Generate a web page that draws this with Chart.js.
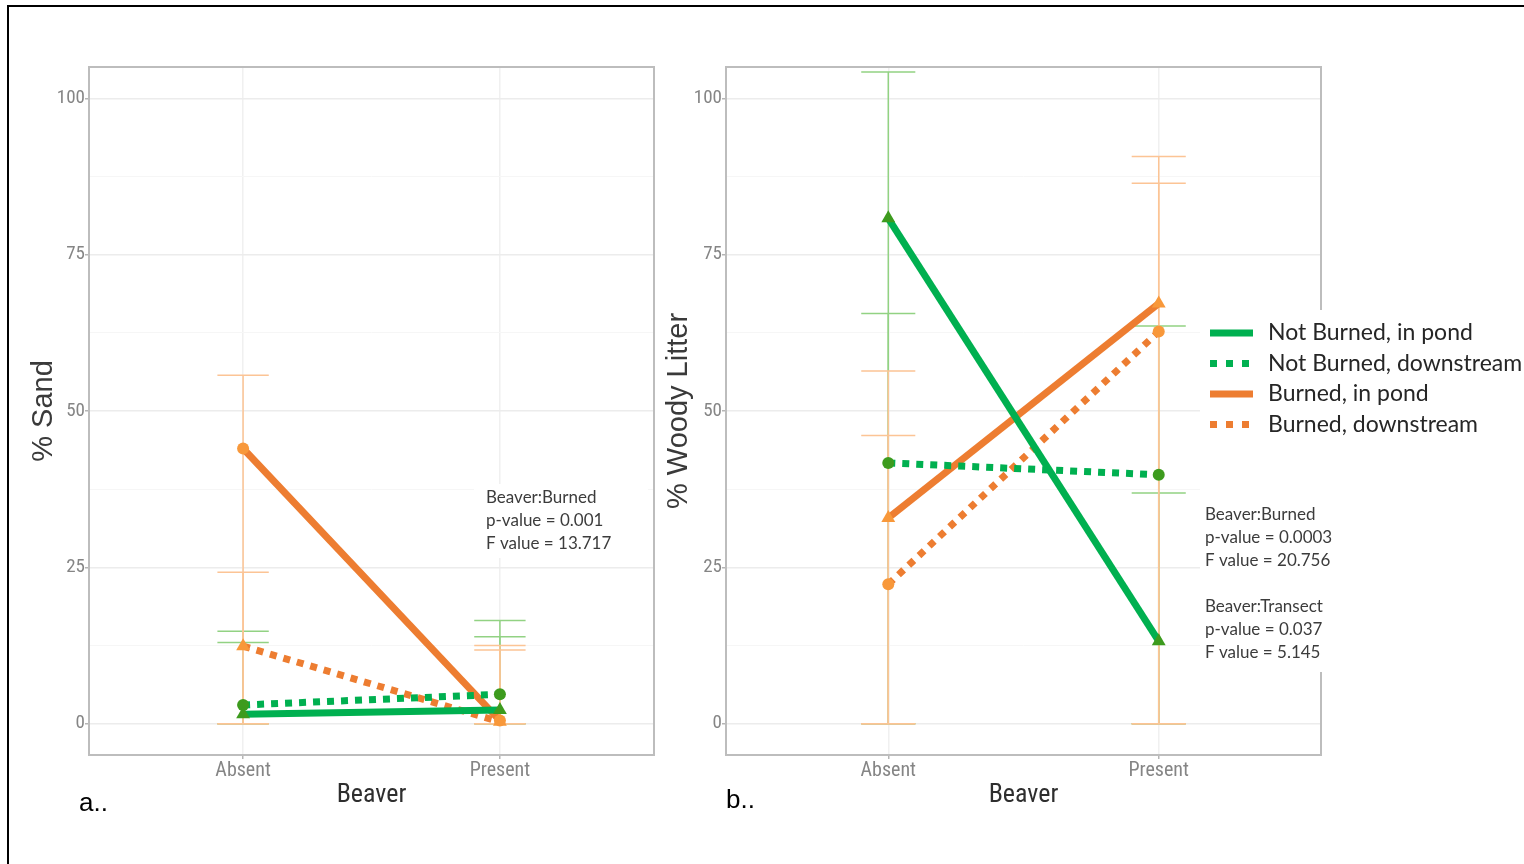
<!DOCTYPE html>
<html>
<head>
<meta charset="utf-8">
<title>Sand and woody litter by beaver presence</title>
<script src="https://cdn.jsdelivr.net/npm/chart.js@4.4.1/dist/chart.umd.min.js"></script>
<style>
  html, body { margin: 0; padding: 0; background: #fff; }
  body { width: 1524px; height: 864px; position: relative; overflow: hidden; }
  .frame { position: absolute; left: 7px; top: 5px; right: -4px; bottom: -4px; border-left: 2px solid #000; border-top: 2px solid #000; }
  #sandWrap { position: absolute; left: 0; top: 0; width: 680px; height: 864px; }
  #woodyWrap { position: absolute; left: 640px; top: 0; width: 884px; height: 864px; }
  .tag { position: absolute; font: 26px "Liberation Sans", Arial, sans-serif; color: #000; line-height: 30px; }
</style>
</head>
<body>
<div class="frame"></div>
<div id="sandWrap"><canvas id="sandChart" width="680" height="864"></canvas></div>
<div id="woodyWrap"><canvas id="woodyChart" width="884" height="864"></canvas></div>
<div class="tag" style="left:79px; top:787px;">a..</div>
<div class="tag" style="left:726px; top:784px;">b..</div>
<script>
// ---- data ----
const categories = ['Absent', 'Present'];
const seriesNames = ['Not Burned, in pond', 'Not Burned, downstream', 'Burned, in pond', 'Burned, downstream'];
const yMajorTicks = [0, 25, 50, 75, 100];
const yMinorTicks = [12.5, 37.5, 62.5, 87.5];

// % sand (means, upper error limits)
const sandNotBurnedPond = [1.5, 2.2];
const sandNotBurnedDown = [3.0, 4.7];
const sandBurnedPond = [44.0, 0.5];
const sandBurnedDown = [12.4, 0.3];
const sandUpperNotBurnedPond = [13.0, 13.9];
const sandUpperNotBurnedDown = [14.8, 16.5];
const sandUpperBurnedPond = [55.7, 12.5];
const sandUpperBurnedDown = [24.2, 11.8];

// % woody litter
const woodyNotBurnedPond = [80.8, 13.2];
const woodyNotBurnedDown = [41.7, 39.8];
const woodyBurnedPond = [32.9, 67.2];
const woodyBurnedDown = [22.3, 62.7];
const woodyUpperNotBurnedPond = [104.2, 36.9];
const woodyUpperNotBurnedDown = [65.6, 63.6];
const woodyUpperBurnedPond = [56.4, 90.7];
const woodyUpperBurnedDown = [46.1, 86.4];

// error bars are floored at zero
const errorFloor = [0, 0];

// ---- styles ----
const GREEN = '#00b050';
const ORANGE = '#ed7d31';
const lineColors = [GREEN, GREEN, ORANGE, ORANGE];
const markerColors = ['#3d9b1e', '#3d9b1e', '#f8983a', '#f8983a'];
const errorColors = ['#92d283', '#92d283', '#fcc495', '#fcc495'];
const dashed = [false, true, false, true];
const TICK_FONT = '"Liberation Sans Narrow", "Arial Narrow", "Roboto Condensed", sans-serif';
const NOTE_FONT = 'Lato, "Open Sans", sans-serif';

function buildDatasets(means, uppers, shapes) {
  return means.map((vals, i) => ({
    label: seriesNames[i],
    data: vals.map((v, j) => ({ x: j + 1, y: v })),
    errHi: uppers[i],
    errLo: errorFloor,
    borderColor: lineColors[i],
    borderWidth: 7,
    borderDash: dashed[i] ? [7, 7] : [],
    borderCapStyle: 'butt',
    pointStyle: shapes[i],
    pointRadius: shapes[i] === 'triangle' ? 8 : 6,
    pointBackgroundColor: markerColors[i],
    pointBorderWidth: 0,
    fill: false,
    tension: 0
  }));
}

// vertical error bars with caps, drawn under the lines
const errorBars = {
  id: 'errorBars',
  beforeDatasetsDraw(chart) {
    const { ctx, scales: { x, y } } = chart;
    ctx.save();
    ctx.lineWidth = 1.5;
    chart.data.datasets.forEach((ds, i) => {
      ctx.strokeStyle = errorColors[i];
      ds.data.forEach((pt, j) => {
        const px = x.getPixelForValue(pt.x);
        const hw = x.getPixelForValue(pt.x + 0.1) - px;
        const top = y.getPixelForValue(ds.errHi[j]);
        const bot = y.getPixelForValue(ds.errLo[j]);
        ctx.beginPath();
        ctx.moveTo(px, top); ctx.lineTo(px, bot);
        ctx.moveTo(px - hw, top); ctx.lineTo(px + hw, top);
        ctx.moveTo(px - hw, bot); ctx.lineTo(px + hw, bot);
        ctx.stroke();
      });
    });
    ctx.restore();
  }
};

// grey panel border
const panelBox = {
  id: 'panelBox',
  beforeDatasetsDraw(chart) {
    const { ctx, chartArea: a } = chart;
    ctx.save();
    ctx.strokeStyle = '#bdbdbd';
    ctx.lineWidth = 2;
    ctx.strokeRect(a.left, a.top, a.right - a.left, a.bottom - a.top);
    ctx.restore();
  }
};

// statistics text and legend, each on a white patch
const notes = {
  id: 'notes',
  afterDraw(chart, args, opts) {
    const { ctx } = chart;
    ctx.save();
    ctx.fillStyle = '#fff';
    ctx.fillRect(opts.box[0], opts.box[1], opts.box[2], opts.box[3]);
    ctx.fillStyle = '#3c3c3c';
    ctx.font = '17px ' + NOTE_FONT;
    ctx.textBaseline = 'middle';
    opts.lines.forEach(([text, ly]) => ctx.fillText(text, opts.textX, ly));
    if (opts.legend) {
      const lg = opts.legend;
      ctx.font = '23px ' + NOTE_FONT;
      seriesNames.forEach((name, i) => {
        const ry = lg.top + i * lg.step;
        ctx.fillStyle = lineColors[i];
        if (dashed[i]) {
          for (let k = 0; k < 3; k++) ctx.fillRect(lg.x + k * 16, ry - 3.5, 7, 7);
        } else {
          ctx.fillRect(lg.x, ry - 3.5, 43, 7);
        }
        ctx.fillStyle = '#262626';
        ctx.fillText(name, lg.textX, ry);
      });
    }
    ctx.restore();
  }
};

function makePanel(canvasId, datasets, cfg) {
  const isMajor = v => yMajorTicks.includes(v);
  return new Chart(document.getElementById(canvasId), {
    type: 'line',
    data: { datasets },
    plugins: [errorBars, panelBox, notes],
    options: {
      responsive: false,
      animation: false,
      devicePixelRatio: 1,
      layout: { padding: { left: 0, top: 67, right: cfg.padRight, bottom: 0 } },
      plugins: {
        legend: { display: false },
        tooltip: { enabled: false },
        notes: cfg.notes
      },
      scales: {
        x: {
          type: 'linear',
          min: 0.4,
          max: 2.6,
          afterBuildTicks: axis => { axis.ticks = categories.map((c, i) => ({ value: i + 1 })); },
          afterFit: axis => { axis.height = 109; },
          border: { display: false },
          grid: { color: '#f0f0f0', lineWidth: 1.5, tickLength: 4, tickColor: '#b5b5b5' },
          ticks: {
            padding: 0,
            color: '#858585',
            font: { family: TICK_FONT, size: 20 },
            callback: v => categories[v - 1]
          },
          title: {
            display: true,
            text: 'Beaver',
            color: '#2e2e2e',
            font: { family: TICK_FONT, size: 26 },
            padding: { top: 0, bottom: 53 }
          }
        },
        y: {
          type: 'linear',
          min: -5,
          max: 105,
          afterBuildTicks: axis => {
            axis.ticks = yMajorTicks.concat(yMinorTicks).sort((a, b) => a - b).map(v => ({ value: v }));
          },
          afterFit: axis => { axis.width = cfg.axisWidth; },
          border: { display: false },
          grid: {
            color: c => isMajor(c.tick.value) ? '#ececec' : '#f6f6f6',
            lineWidth: c => isMajor(c.tick.value) ? 1.5 : 1,
            tickLength: 4,
            tickColor: c => isMajor(c.tick.value) ? '#b5b5b5' : 'rgba(0,0,0,0)'
          },
          ticks: {
            padding: 0,
            color: '#858585',
            font: { family: TICK_FONT, size: 19 },
            callback: v => isMajor(v) ? String(v) : ''
          },
          title: {
            display: true,
            text: cfg.yTitle,
            color: '#3a3a3a',
            font: { family: '"Liberation Sans", Arial, sans-serif', size: 29 },
            padding: { top: cfg.titlePad, bottom: 0 }
          }
        }
      }
    }
  });
}

makePanel('sandChart',
  buildDatasets(
    [sandNotBurnedPond, sandNotBurnedDown, sandBurnedPond, sandBurnedDown],
    [sandUpperNotBurnedPond, sandUpperNotBurnedDown, sandUpperBurnedPond, sandUpperBurnedDown],
    ['triangle', 'circle', 'circle', 'triangle']),
  {
    padRight: 26,
    axisWidth: 89,
    titlePad: 27,
    yTitle: '% Sand',
    notes: {
      box: [474, 484, 174, 74],
      textX: 486,
      lines: [['Beaver:Burned', 498], ['p-value = 0.001', 521], ['F value = 13.717', 544]]
    }
  });

makePanel('woodyChart',
  buildDatasets(
    [woodyNotBurnedPond, woodyNotBurnedDown, woodyBurnedPond, woodyBurnedDown],
    [woodyUpperNotBurnedPond, woodyUpperNotBurnedDown, woodyUpperBurnedPond, woodyUpperBurnedDown],
    ['triangle', 'circle', 'triangle', 'circle']),
  {
    padRight: 203,
    axisWidth: 86,
    titlePad: 22,
    yTitle: '% Woody Litter',
    notes: {
      box: [560, 310, 324, 362],
      textX: 565,
      lines: [
        ['Beaver:Burned', 515], ['p-value = 0.0003', 538], ['F value = 20.756', 561],
        ['Beaver:Transect', 607], ['p-value = 0.037', 630], ['F value = 5.145', 653]
      ],
      legend: { x: 570, textX: 628, top: 333, step: 30.5 }
    }
  });
</script>
</body>
</html>
